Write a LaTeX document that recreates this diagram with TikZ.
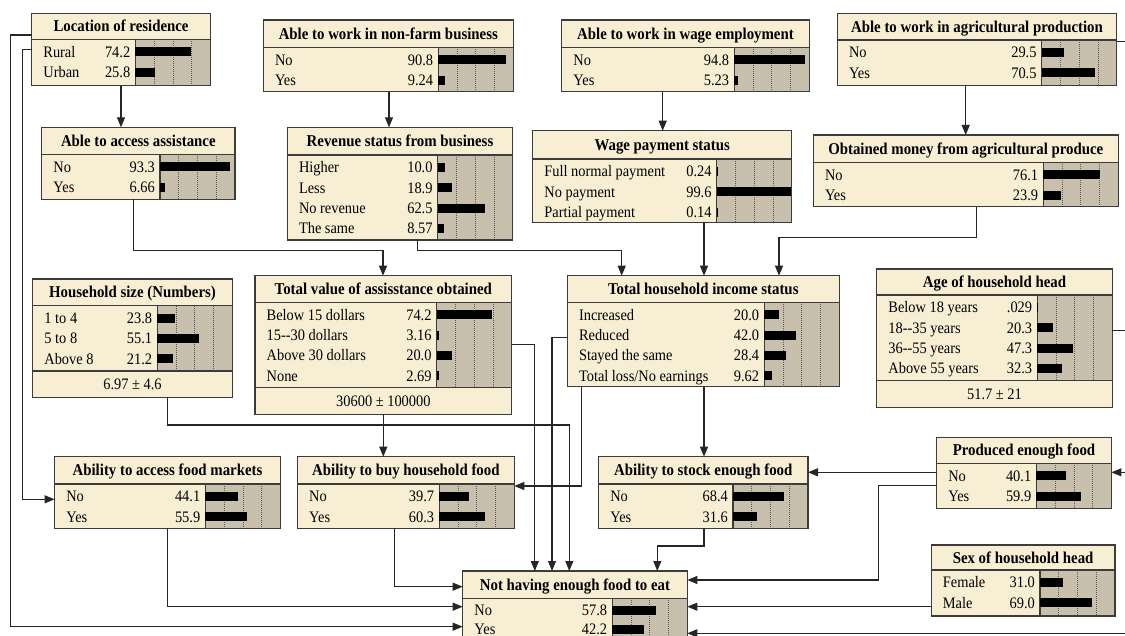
\documentclass[tikz,border=0pt]{standalone}
\usepackage{fontspec}
\setmainfont{Liberation Serif}[FakeStretch=0.9]
\usetikzlibrary{arrows.meta}
\definecolor{cream}{RGB}{248,238,212}
\definecolor{bargray}{RGB}{200,192,172}
\definecolor{frame}{RGB}{60,60,60}
\tikzset{
 bnbox/.style={fill=cream, draw=none, inner sep=0pt, outer sep=0pt},
 bnline/.style={draw=frame, line width=1.2pt},
 bngrid/.style={draw=black!65, line width=0.7pt, dash pattern=on 1pt off 1pt},
 bnbar/.style={fill=black},
 bntitle/.style={font=\fontsize{16.5}{18}\selectfont\bfseries, inner sep=0pt},
 bntext/.style={font=\fontsize{16}{18}\selectfont, inner sep=0pt},
 edge/.style={draw=black!85, line width=1.1pt, -{Triangle[length=10pt,width=8pt]}},
}
\def\bnOff{12.6}\def\bnPitch{20.3}
% #1 name, #2 x0, #3 y0, #4 x1, #5 y1, #6 title separator, #7 bar-area bottom, #8 title
\newcommand\BNnode[8]{%
  \def\bnName{#1}%
  \pgfmathsetmacro\bnW{#4-#2}%
  \pgfmathsetmacro\bnH{#5-#3}%
  \pgfmathsetmacro\bnBL{#4-75}%
  \pgfmathsetmacro\bnCX{(#2+#4)/2}%
  \def\bnX{#2}\def\bnTS{#6}%
  \node[bnbox, minimum width=\bnW pt, minimum height=\bnH pt, anchor=north west] (#1) at (#2,#3) {};
  \fill[bargray] (\bnBL,#6) rectangle (#4,#7);
  \foreach \f in {18.75,37.5,56.25} \draw[bngrid] (\bnBL+\f,#6) -- (\bnBL+\f,#7);
  \draw[bnline] (#2,#6) -- (#4,#6) (\bnBL,#6) -- (\bnBL,#7) (#2,#7) -- (#4,#7);
  \draw[bnline] (#1.north west) rectangle (#1.south east);
  \node[bntitle, anchor=base] (#1-title) at (\bnCX, {(#3+#6)/2+5.6}) {#8};
}
% #1 row index, #2 label, #3 value text, #4 value
\newcommand\BNrow[4]{%
  \pgfmathsetmacro\bnY{\bnTS+\bnOff+\bnPitch*#1}%
  \node[bntext, anchor=base west] (\bnName-l#1) at (\bnX+11.5, \bnY+5.3) {#2};
  \node[bntext, anchor=base east] (\bnName-v#1) at (\bnBL-5, \bnY+5.3) {#3};
  \fill[bnbar] (\bnBL, \bnY-4.5) rectangle (\bnBL+0.75*#4, \bnY+4.5);
}
% #1 bar-area bottom, #2 y1, #3 text
\newcommand\BNfoot[3]{%
  \node[bntext, anchor=base] (\bnName-foot) at (\bnCX, {(#1+#2)/2+5.3}) {#3};
}
\begin{document}
\begin{tikzpicture}[x=1pt,y=-1pt]
\path[use as bounding box] (0,0) rectangle (1125,636);

\BNnode{loc}{31.7}{13.3}{210.4}{85.7}{39.3}{85.7}{Location of residence}
\BNrow{0}{Rural}{74.2}{74.2}
\BNrow{1}{Urban}{25.8}{25.8}

\BNnode{nonfarm}{263.3}{20}{513.3}{91.7}{47.3}{91.7}{Able to work in non-farm business}
\BNrow{0}{No}{90.8}{90.8}
\BNrow{1}{Yes}{9.24}{9.24}

\BNnode{revenue}{287.3}{127.3}{512.7}{240}{155}{240}{Revenue status from business}
\BNrow{0}{Higher}{10.0}{10.0}
\BNrow{1}{Less}{18.9}{18.9}
\BNrow{2}{No revenue}{62.5}{62.5}
\BNrow{3}{The same}{8.57}{8.57}

\BNnode{wageemp}{561.7}{20}{809.3}{91.7}{47.3}{91.7}{Able to work in wage employment}
\BNrow{0}{No}{94.8}{94.8}
\BNrow{1}{Yes}{5.23}{5.23}

\BNnode{wagepay}{532.7}{130.7}{791.7}{222.3}{159}{222.3}{Wage payment status}
\BNrow{0}{Full normal payment}{0.24}{0.24}
\BNrow{1}{No payment}{99.6}{99.6}
\BNrow{2}{Partial payment}{0.14}{0.14}

\BNnode{agprod}{837.3}{13.3}{1116.7}{85.3}{40}{85.3}{Able to work in agricultural production}
\BNrow{0}{No}{29.5}{29.5}
\BNrow{1}{Yes}{70.5}{70.5}

\BNnode{money}{813.3}{135}{1118.3}{206.7}{162.3}{206.7}{Obtained money from agricultural produce}
\BNrow{0}{No}{76.1}{76.1}
\BNrow{1}{Yes}{23.9}{23.9}

\BNnode{assist}{41.7}{127.3}{235}{199.3}{154.3}{199.3}{Able to access assistance}
\BNrow{0}{No}{93.3}{93.3}
\BNrow{1}{Yes}{6.66}{6.66}

\BNnode{hhsize}{32.7}{279}{232.3}{397.3}{305.7}{371}{Household size (Numbers)}
\BNrow{0}{1 to 4}{23.8}{23.8}
\BNrow{1}{5 to 8}{55.1}{55.1}
\BNrow{2}{Above 8}{21.2}{21.2}
\BNfoot{371}{397.3}{6.97 ± 4.6}

\BNnode{value}{255}{275.7}{511.7}{414.3}{302.3}{387.3}{Total value of assisstance obtained}
\BNrow{0}{Below 15 dollars}{74.2}{74.2}
\BNrow{1}{15-{}-30 dollars}{3.16}{3.16}
\BNrow{2}{Above 30 dollars}{20.0}{20.0}
\BNrow{3}{None}{2.69}{2.69}
\BNfoot{387.3}{414.3}{30600 ± 100000}

\BNnode{income}{567.3}{275.7}{839.3}{386.7}{302.3}{386.7}{Total household income status}
\BNrow{0}{Increased}{20.0}{20.0}
\BNrow{1}{Reduced}{42.0}{42.0}
\BNrow{2}{Stayed the same}{28.4}{28.4}
\BNrow{3}{Total loss/No earnings}{9.62}{9.62}

\BNnode{age}{876.7}{269}{1112.3}{407.7}{295}{380.7}{Age of household head}
\BNrow{0}{Below 18 years}{.029}{0.029}
\BNrow{1}{18-{}-35 years}{20.3}{20.3}
\BNrow{2}{36-{}-55 years}{47.3}{47.3}
\BNrow{3}{Above 55 years}{32.3}{32.3}
\BNfoot{380.7}{407.7}{51.7 ± 21}

\BNnode{markets}{54.6}{456.7}{280.4}{528.3}{484}{528.3}{Ability to access food markets}
\BNrow{0}{No}{44.1}{44.1}
\BNrow{1}{Yes}{55.9}{55.9}

\BNnode{buy}{297.5}{456.7}{514.3}{528.3}{484}{528.3}{Ability to buy household food}
\BNrow{0}{No}{39.7}{39.7}
\BNrow{1}{Yes}{60.3}{60.3}

\BNnode{stock}{598.6}{456.7}{808}{528.3}{484}{528.3}{Ability to stock enough food}
\BNrow{0}{No}{68.4}{68.4}
\BNrow{1}{Yes}{31.6}{31.6}

\BNnode{produced}{936.6}{437.3}{1111.4}{508.3}{463.3}{508.3}{Produced enough food}
\BNrow{0}{No}{40.1}{40.1}
\BNrow{1}{Yes}{59.9}{59.9}

\BNnode{sex}{931.2}{545}{1115}{616}{570}{616}{Sex of household head}
\BNrow{0}{Female}{31.0}{31.0}
\BNrow{1}{Male}{69.0}{69.0}

\def\bnOff{11.7}\def\bnPitch{19.3}
\BNnode{nothave}{462.7}{571}{687.3}{665}{598.3}{665}{Not having enough food to eat}
\BNrow{0}{No}{57.8}{57.8}
\BNrow{1}{Yes}{42.2}{42.2}

% connectors
\draw[edge] (loc.south -| 121,0) -- (assist.north -| 121,0);
\draw[edge] (loc.west |- 0,35) -| (10.7,626.7) -- (nothave.west |- 0,626.7);
\draw[edge] (loc.west |- 0,49.3) -| (22.4,499.3) -- (markets.west |- 0,499.3);
\draw[edge] (nonfarm.south -| 389,0) -- (revenue.north -| 389,0);
\draw[edge] (wageemp.south -| 662.7,0) -- (wagepay.north -| 662.7,0);
\draw[edge] (agprod.south -| 965.7,0) -- (money.north -| 965.7,0);
\draw[edge] (agprod.east |- 0,41.7) -- (1134,41.7) -- (1134,472.3) -- (produced.east |- 0,472.3);
\draw[edge] (assist.south -| 133.3,0) |- (383,250.7) -- (value.north -| 383,0);
\draw[edge] (revenue.south -| 417.7,0) |- (621.7,250.7) -- (income.north -| 621.7,0);
\draw[edge] (wagepay.south -| 704,0) -- (income.north -| 704,0);
\draw[edge] (money.south -| 976.7,0) |- (779,237.7) -- (income.north -| 779,0);
\draw[edge] (hhsize.south -| 167.3,0) |- (569.3,425) -- (nothave.north -| 569.3,0);
\draw[edge] (value.south -| 383.3,0) -- (buy.north -| 383.3,0);
\draw[edge] (value.east |- 0,344.3) -| (nothave.north -| 534.8,0);
\draw[edge] (income.west |- 0,337.7) -| (nothave.north -| 552,0);
\draw[edge] (income.south -| 581.7,0) |- (buy.east |- 0,486);
\draw[edge] (income.south -| 704,0) -- (stock.north -| 704,0);
\draw[edge] (markets.south -| 167.1,0) |- (nothave.west |- 0,606.7);
\draw[edge] (buy.south -| 394.6,0) |- (nothave.west |- 0,586.7);
\draw[edge] (stock.south -| 704,0) |- (657.3,546) -- (nothave.north -| 657.3,0);
\draw[edge] (produced.west |- 0,472.3) -- (stock.east |- 0,472.3);
\draw[edge] (produced.west |- 0,485.7) -| (878.2,580) -- (nothave.east |- 0,580);
\draw[edge] (sex.west |- 0,606.7) -- (nothave.east |- 0,606.7);
\draw[edge] (age.east |- 0,330.7) -- (1140,330.7) -- (1140,633.3) -- (nothave.east |- 0,633.3);
\end{tikzpicture}
\end{document}
